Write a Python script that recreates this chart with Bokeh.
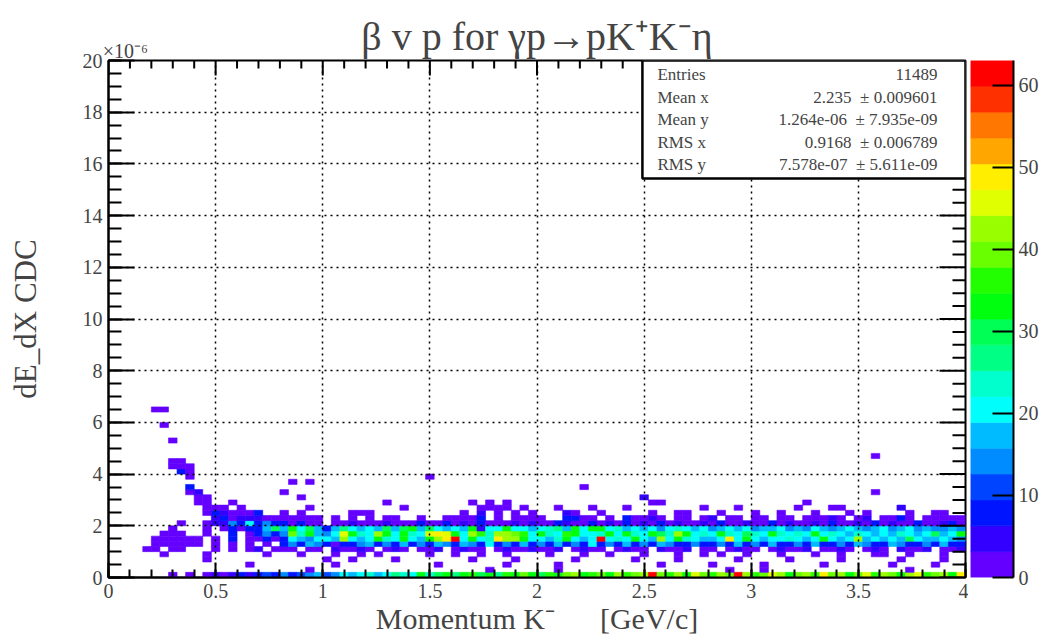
from bokeh.plotting import figure
from bokeh.layouts import row
from bokeh.models import (ColumnDataSource, LinearAxis, FixedTicker, Grid,
                          BoxAnnotation, Label, Range1d, LinearColorMapper)
from bokeh.transform import transform
from bokeh.embed import file_html
from bokeh.resources import INLINE

# ---- histogram binning (dE/dx in units of 1e-6) ----
X_LO, X_HI, NBX = 0.0, 4.0, 100
Y_LO, Y_HI, NBY = 0.0, 20.0, 100
Z_MAX = 63.0

# colour band of every filled bin: a = lowest band ... t = highest band
BAND_CODES = "abcdefghijklmnopqrst"
BAND_COUNTS = [1, 5, 8, 11, 14, 17, 21, 24, 27, 30,
               33, 36, 39, 43, 46, 49, 52, 55, 58, 61]

# rows of bins from y-bin 0 upward, 100 x-bins each (groups of ten)
DENSE_ROWS = [
    ".......a.a .ababcbcdc ecdefdegfg hfgihgkhjk ikljkilkmk jlkmnklmkn lmntmlnkom lnmtnlmonk mnlpmnkmol nmknolmnkp",
    ".......... .......... ...a...... .......... ....a..... ..a....... .......... ..a...a... .......... ...a......",
    ".......... ......a... ......a... ........a. ......a... ..a....... ....a..... a.....a... ...a...... .a....a...",
    ".......... .a........ .....a..a. ...a...... ..a....a.. ....a..... .a....a... ...a.....a .....a.... ..a....a..",
    "......a... .a......a. ..a...a..a .a.....a.. a..a..a... .a...a..a. ..a...a..a .a..a...a. ..a..a...a a..a...a..",
    "....aa.aa. ..a.a.ab.a aa.aa.baab a.aba.aab. abaa.abaab aab.abaa.a baa.baab.a a.abaa.aba ab.aaba.ab a.baab.aab",
    ".....aaaaa a.a.a.a.a. cecfecacce fcecfcecfe cfecgcecfc ecfcecgcec fcecfeccec cecfcecfcc ecfccecfec cfeccecfcc",
    ".....aaaaa a.a.c.aaca cgfeggfngf gkhgkgfknp tgkghpnnkg gfhkgfgtgh gkgfngkhgf fgpgkgfggh gfgkgfgnfg fgfjgffgfe",
    "......aaa. .a..c.acec emhkfegokh gnkgkhgopo kgnlhnnmlg khglkgghkg khgkjhnkgh gkhgjhgkhg hgkghgfhgf gfhgfgjfgk",
    ".......a.. .a.acaccfj fkgjfcfigf gfjfjkfjgf gfkbggkggf ghifkgkkgh fgfgeghgfg efgfgeffge fegfefgfef gefgefeefe",
    "........a. .abbecgcec cacaa.aaba aabaaacaac abacaaabab aacbaacaba cabacabaab acaabaacab aabacaabac abaacaabca",
    ".......... ..bcabbbaa aaaaa.a.a. a.aa..a..a aaac.a.aaa a..ccaa.a. caaba.aa.a b.aa.aa.aa .aaaba.ab. aaca.aaaaa",
]

# isolated bins above the band: (y-bin, x-bin, band)
SPARSE_CELLS = [
    (12, 11, "a"), (12, 12, "c"), (12, 13, "b"), (12, 14, "a"), (12, 15, "a"), (12, 16, "a"),
    (12, 17, "c"), (12, 20, "a"), (12, 22, "a"), (12, 28, "a"), (12, 29, "a"), (12, 30, "a"),
    (12, 41, "a"), (12, 43, "b"), (12, 45, "a"), (12, 47, "a"), (12, 49, "a"), (12, 53, "b"),
    (12, 54, "a"), (12, 57, "a"), (12, 63, "a"), (12, 66, "a"), (12, 67, "a"), (12, 71, "a"),
    (12, 75, "a"), (12, 78, "a"), (12, 82, "a"), (12, 86, "a"), (12, 88, "a"), (12, 93, "a"),
    (12, 96, "a"), (12, 97, "a"),
    (13, 11, "a"), (13, 12, "a"), (13, 13, "a"), (13, 15, "a"), (13, 23, "a"), (13, 34, "a"),
    (13, 43, "a"), (13, 44, "a"), (13, 45, "a"), (13, 46, "a"), (13, 48, "a"), (13, 52, "a"),
    (13, 56, "a"), (13, 60, "a"), (13, 69, "a"), (13, 73, "a"), (13, 80, "a"), (13, 84, "a"),
    (13, 85, "a"), (13, 92, "b"),
    (14, 10, "a"), (14, 11, "a"), (14, 14, "a"), (14, 32, "a"), (14, 42, "a"), (14, 44, "a"),
    (14, 46, "a"), (14, 63, "a"), (14, 64, "a"), (14, 81, "a"),
    (15, 10, "a"), (15, 11, "a"), (15, 22, "a"), (15, 62, "b"),
    (16, 9, "a"), (16, 10, "b"), (16, 20, "a"), (16, 89, "a"),
    (17, 9, "c"), (17, 55, "a"),
    (18, 21, "a"), (18, 23, "a"),
    (19, 9, "a"), (19, 37, "a"),
    (20, 8, "c"), (20, 9, "a"),
    (21, 7, "a"), (21, 8, "a"), (21, 9, "a"),
    (22, 7, "a"), (22, 8, "a"),
    (23, 89, "a"),
    (26, 7, "a"),
    (29, 6, "a"),
    (32, 5, "a"), (32, 6, "a"),
]

PALETTE = ["#6300ff", "#3300ff", "#0014ff", "#0044ff", "#008bff",
           "#00bbff", "#00fffc", "#00ffcc", "#00ff85", "#00ff55",
           "#00ff0e", "#22ff00", "#69ff00", "#99ff00", "#e0ff00",
           "#ffee00", "#ffa700", "#ff7700", "#ff3000", "#ff0000"]

X_TICKS = [0, 0.5, 1, 1.5, 2, 2.5, 3, 3.5, 4]
X_TICK_LABELS = ["0", "0.5", "1", "1.5", "2", "2.5", "3", "3.5", "4"]
Y_TICKS = [0, 2, 4, 6, 8, 10, 12, 14, 16, 18, 20]
Z_TICKS = [0, 10, 20, 30, 40, 50, 60]

NB = "\u00a0"
TITLE = "\u03b2 v p for \u03b3p\u2192pK\u207aK\u207b\u03b7"
X_TITLE = "Momentum K\u207b" + NB * 6 + "[GeV/c]"
Y_TITLE = "dE_dX CDC"
Y_EXPONENT = "\u00d710\u207b\u2076"
STATS = [("Entries", "11489"),
         ("Mean x", "2.235" + NB * 2 + "\u00b1 0.009601"),
         ("Mean y", "1.264e-06" + NB * 2 + "\u00b1 7.935e-09"),
         ("RMS x", "0.9168" + NB * 2 + "\u00b1 0.006789"),
         ("RMS y", "7.578e-07" + NB * 2 + "\u00b1 5.611e-09")]

FONT = "Liberation Serif"

# ---- collect the filled bins ----
dx = (X_HI - X_LO) / NBX
dy = (Y_HI - Y_LO) / NBY
cells = {"x0": [], "x1": [], "y0": [], "y1": [], "count": []}


def add_bin(iy, ix, code):
    cells["x0"].append(X_LO + ix * dx)
    cells["x1"].append(X_LO + (ix + 1) * dx)
    cells["y0"].append(Y_LO + iy * dy)
    cells["y1"].append(Y_LO + (iy + 1) * dy)
    cells["count"].append(BAND_COUNTS[BAND_CODES.index(code)])


for iy, line in enumerate(DENSE_ROWS):
    bins = line.replace(" ", "")[:NBX]
    for ix, ch in enumerate(bins):
        if ch != ".":
            add_bin(iy, ix, ch)
for iy, ix, code in SPARSE_CELLS:
    add_bin(iy, ix, code)

mapper = LinearColorMapper(palette=PALETTE, low=0, high=Z_MAX)

# frame geometry in pixels (used for tick lengths)
FRAME_W, FRAME_H = 857, 517
PX_X = (X_HI - X_LO) / FRAME_W
PX_Y = (Y_HI - Y_LO) / FRAME_H

# ---- main histogram frame ----
p = figure(width=968, height=641, x_range=Range1d(X_LO, X_HI), y_range=Range1d(Y_LO, Y_HI),
           output_backend="svg", toolbar_location=None,
           x_axis_location=None, y_axis_location=None,
           min_border_left=108, min_border_right=3, min_border_top=60, min_border_bottom=64)
p.background_fill_color = "white"
p.border_fill_color = "white"
p.outline_line_color = "black"
p.outline_line_width = 2
p.grid.visible = False

p.quad(left="x0", right="x1", bottom="y0", top="y1", source=ColumnDataSource(cells),
       fill_color=transform("count", mapper), line_color=transform("count", mapper),
       line_width=0.6)

x_minor = [i * 0.1 for i in range(41)]
y_minor = [i * 0.5 for i in range(41)]


def frame_axis(ticks, minor, major_len, minor_len, labels=None):
    ax = LinearAxis(ticker=FixedTicker(ticks=ticks, minor_ticks=minor))
    ax.axis_line_color = "black"
    ax.axis_line_width = 2
    ax.major_tick_in = major_len
    ax.major_tick_out = 0
    ax.minor_tick_in = minor_len
    ax.minor_tick_out = 0
    ax.major_tick_line_width = 2
    ax.minor_tick_line_width = 2
    ax.major_label_text_font = FONT
    ax.major_label_text_font_size = "20px"
    ax.major_label_standoff = 6
    ax.axis_label_text_font = FONT
    ax.axis_label_text_font_style = "normal"
    ax.axis_label_text_font_size = "30px"
    if labels is not None:
        ax.major_label_overrides = {t: s for t, s in zip(ticks, labels)}
    return ax


xax = frame_axis(X_TICKS, x_minor, 15, 8, X_TICK_LABELS)
xax.axis_label = X_TITLE
xax.axis_label_standoff = 1
p.add_layout(xax, "below")
yax = frame_axis(Y_TICKS, y_minor, 26, 13)
yax.axis_label = Y_TITLE
yax.axis_label_text_font_size = "31px"
yax.axis_label_standoff = 37
p.add_layout(yax, "left")

# top side: the exponent of the y scale sits above the frame corner, the
# histogram title above the frame centre
EXP_POS = 0.079
tax = LinearAxis(ticker=FixedTicker(ticks=[EXP_POS], minor_ticks=[]))
tax.axis_line_color = None
tax.major_tick_line_color = None
tax.minor_tick_line_color = None
tax.major_tick_in = 0
tax.major_tick_out = 0
tax.major_label_overrides = {EXP_POS: Y_EXPONENT}
tax.major_label_text_font = FONT
tax.major_label_text_font_size = "20px"
tax.major_label_standoff = -1
tax.axis_label = TITLE
tax.axis_label_text_font = FONT
tax.axis_label_text_font_style = "normal"
tax.axis_label_text_font_size = "40px"
tax.axis_label_standoff = -22
p.add_layout(tax, "above")

# mirrored ticks along the top and right edges of the frame
tx0, ty0, tx1, ty1 = [], [], [], []
for t in x_minor:
    length = 15 if any(abs(t - m) < 1e-9 for m in X_TICKS) else 8
    tx0.append(t); tx1.append(t); ty0.append(Y_HI); ty1.append(Y_HI - length * PX_Y)
for t in y_minor:
    length = 26 if any(abs(t - m) < 1e-9 for m in Y_TICKS) else 13
    tx0.append(X_HI); tx1.append(X_HI - length * PX_X); ty0.append(t); ty1.append(t)
p.segment(x0=tx0, y0=ty0, x1=tx1, y1=ty1, line_color="black", line_width=2)

# dotted grid drawn over the bins
for dim, ticks in ((0, X_TICKS), (1, Y_TICKS)):
    p.add_layout(Grid(dimension=dim, ticker=FixedTicker(ticks=ticks),
                      grid_line_color="black", grid_line_dash="2 4",
                      grid_line_width=1.5, level="guide"))

# statistics box
p.add_layout(BoxAnnotation(left=2.492, right=4.0, bottom=15.44, top=20.0,
                           fill_color="white", fill_alpha=1.0,
                           line_color="black", line_width=2.5, line_alpha=1.0))
stat_rows_y = [19.46, 18.57, 17.72, 16.83, 15.98]
for (name, val), yy in zip(STATS, stat_rows_y):
    p.add_layout(Label(x=2.562, y=yy, text=name, text_font=FONT, text_font_size="17px",
                       text_align="left", text_baseline="middle"))
    p.add_layout(Label(x=3.869, y=yy, text=val, text_font=FONT, text_font_size="17px",
                       text_align="right", text_baseline="middle"))

# ---- colour scale ----
cb = figure(width=80, height=641, x_range=Range1d(0, 1), y_range=Range1d(0, Z_MAX),
            output_backend="svg", toolbar_location=None,
            x_axis_location=None, y_axis_location=None,
            min_border_left=2, min_border_right=35, min_border_top=60, min_border_bottom=64)
cb.outline_line_color = None
cb.background_fill_color = "white"
cb.border_fill_color = "white"
cb.grid.visible = False
band = Z_MAX / len(PALETTE)
cb.quad(left=0, right=1,
        bottom=[i * band for i in range(len(PALETTE))],
        top=[(i + 1) * band for i in range(len(PALETTE))],
        fill_color=PALETTE, line_color=PALETTE, line_width=0.6)
zax = LinearAxis(ticker=FixedTicker(ticks=Z_TICKS, minor_ticks=[]))
zax.axis_line_color = "black"
zax.axis_line_width = 2
zax.major_tick_in = 21
zax.major_tick_out = 0
zax.minor_tick_in = 0
zax.minor_tick_out = 0
zax.major_tick_line_width = 2
zax.major_label_text_font = FONT
zax.major_label_text_font_size = "20px"
zax.major_label_standoff = 5
cb.add_layout(zax, "right")

layout = row(p, cb)
open("out.html", "w").write(file_html(layout, INLINE))
